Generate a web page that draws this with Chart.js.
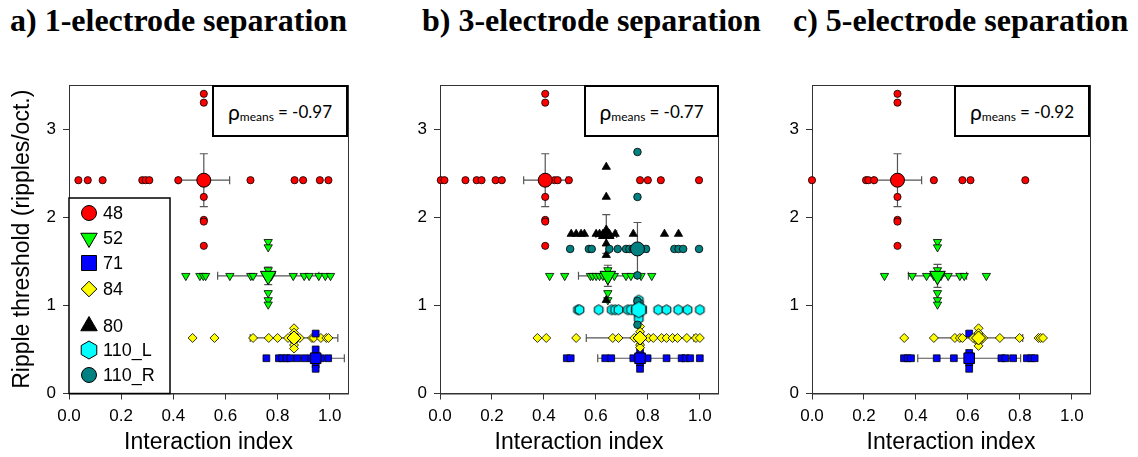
<!DOCTYPE html>
<html>
<head>
<meta charset="utf-8">
<script src="https://cdn.jsdelivr.net/npm/chart.js@4.4.0/dist/chart.umd.min.js"></script>
<style>
  body { margin: 0; width: 1138px; height: 457px; background: #fff; position: relative; overflow: hidden; }
  canvas { position: absolute; top: 0; }
  .ttl { position: absolute; top: 4px; font: bold 32px "Liberation Serif", "Times New Roman", serif; line-height: 32px; white-space: nowrap; color: #000; }
  .rho { position: absolute; top: 85px; height: 52px; box-sizing: border-box; border: 2px solid #000; background: #fff;
         display: flex; align-items: center; justify-content: center; font: 17px Lato, "Liberation Sans", sans-serif; color: #000; }
  .rho .g { font-size: 21px; }
  .rho .sub { font-size: 12px; position: relative; top: 5px; margin-right: 4px; }
</style>
</head>
<body>
<div class="ttl" style="left:10px">a) 1-electrode separation</div>
<div class="ttl" style="left:422px">b) 3-electrode separation</div>
<div class="ttl" style="left:793px">c) 5-electrode separation</div>

<canvas id="ca" width="370" height="457" style="left:0px"></canvas>
<canvas id="cb" width="360" height="457" style="left:380px"></canvas>
<canvas id="cc" width="388" height="457" style="left:750px"></canvas>

<div class="rho" style="left:212px;width:136px"><span class="g">ρ</span><span class="sub">means</span>= -0.97</div>
<div class="rho" style="left:584px;width:135px"><span class="g">ρ</span><span class="sub">means</span>= -0.77</div>
<div class="rho" style="left:954px;width:136px"><span class="g">ρ</span><span class="sub">means</span>= -0.92</div>

<script>
// animals and their ripple thresholds (ripples/oct.)
const animals = ['48', '52', '71', '84', '80', '110_L', '110_R'];
const thresholds = [2.42, 1.335, 0.40, 0.63, 1.81, 0.95, 1.64];

// ---- a) 1-electrode separation ----
// "Row" = interaction index of sites sitting on the animal's threshold,
// "Col" = extra thresholds of sites stacked at the animal's mean index
const a48Row = [0.036, 0.072, 0.129, 0.281, 0.294, 0.308, 0.419, 0.696, 0.865, 0.898, 0.962, 0.995];
const a48Col = [3.40, 3.30, 2.23, 1.97, 1.95, 1.675];
const a52Row = [0.448, 0.502, 0.515, 0.524, 0.617, 0.697, 0.706, 0.755, 0.776, 0.860, 0.902, 0.921, 0.958, 0.983, 1.003];
const a52Col = [1.72, 1.66, 1.40, 1.14, 1.06, 1.01];
const a71Row = [0.757, 0.805, 0.817, 0.834, 0.849, 0.876, 0.904, 0.930, 0.966, 0.994];
const a71Col = [0.68, 0.50, 0.33, 0.28];
const a84Row = [0.474, 0.558, 0.706, 0.766, 0.800, 0.840, 0.856, 0.885, 0.932, 0.939, 0.966, 0.987, 0.995];
const a84Col = [0.74, 0.69, 0.55, 0.51];
const aIds = ['48', '52', '71', '84'];
const aMeanX = [0.517, 0.764, 0.946, 0.863];
const aErrX = [0.099, 0.194, 0.110, 0.168];
const aErrY = [0.30, 0.10, 0.06, 0.05];

// ---- b) 3-electrode separation ----
const b48Row = [0.003, 0.017, 0.098, 0.141, 0.160, 0.214, 0.238, 0.441, 0.453, 0.496, 0.770, 0.800, 0.850, 0.997];
const b48Col = [3.40, 3.30, 2.23, 1.97, 1.95, 1.675];
const b80Row = [0.505, 0.524, 0.543, 0.556, 0.601, 0.614, 0.627, 0.652, 0.674, 0.744, 0.864, 0.918];
const b80Col = [2.57, 2.23, 1.70, 1.57, 1.06];
const b110RRow = [0.501, 0.573, 0.584, 0.652, 0.684, 0.716, 0.729, 0.742, 0.793, 0.902, 0.918, 0.936, 0.997];
const b110RCol = [2.74, 2.23, 1.34, 1.05, 0.78];
const b52Row = [0.422, 0.480, 0.579, 0.588, 0.601, 0.614, 0.627, 0.652, 0.671, 0.716, 0.735, 0.774, 0.815];
const b52Col = [1.40, 1.29, 1.14, 1.06];
const b110LRow = [0.531, 0.537, 0.611, 0.661, 0.674, 0.687, 0.723, 0.735, 0.754, 0.774, 0.840, 0.872, 0.917, 0.953, 1.000];
const b110LCol = [1.06, 1.02, 0.99, 0.91, 0.85];
const b84Row = [0.375, 0.409, 0.524, 0.665, 0.687, 0.748, 0.780, 0.803, 0.821, 0.853, 0.872, 0.895, 0.914, 0.950, 0.985, 1.000];
const b84Col = [0.76, 0.70, 0.55, 0.52];
const b71Row = [0.488, 0.503, 0.636, 0.659, 0.744, 0.761, 0.780, 0.799, 0.872, 0.930, 0.946, 0.963, 1.000];
const b71Col = [0.48, 0.35, 0.28];
const bIds = ['48', '110_R', '80', '52', '110_L', '84', '71'];
const bMeanX = [0.405, 0.760, 0.640, 0.646, 0.765, 0.770, 0.770];
const bErrX = [0.083, 0.040, 0.040, 0.113, 0.030, 0.207, 0.163];
const bErrY = [0.30, 0.30, 0.22, 0.12, 0.05, 0.06, 0.06];

// ---- c) 5-electrode separation ----
const c48Row = [0.000, 0.208, 0.217, 0.239, 0.469, 0.579, 0.610, 0.821];
const c48Col = [3.40, 3.30, 2.23, 1.97, 1.95, 1.675];
const c52Row = [0.279, 0.386, 0.441, 0.469, 0.496, 0.524, 0.569, 0.586, 0.671];
const c52Col = [1.72, 1.66, 1.40, 1.14, 1.06, 1.01];
const c84Row = [0.355, 0.469, 0.550, 0.569, 0.579, 0.620, 0.659, 0.723, 0.799, 0.872, 0.880, 0.889];
const c84Col = [0.74, 0.685, 0.58, 0.54];
const c71Row = [0.354, 0.368, 0.381, 0.480, 0.546, 0.729, 0.744, 0.774, 0.827, 0.844, 0.857];
const c71Col = [0.68, 0.46, 0.35, 0.28];
const cIds = ['48', '52', '84', '71'];
const cMeanX = [0.329, 0.483, 0.641, 0.605];
const cErrX = [0.093, 0.112, 0.170, 0.198];
const cErrY = [0.30, 0.13, 0.06, 0.06];

// marker looks
function hexImage(r, fill) {
  const s = Math.ceil(2 * r + 3);
  const c = document.createElement('canvas');
  c.width = s; c.height = s;
  const g = c.getContext('2d');
  hexPath(g, s / 2, s / 2, r);
  g.fillStyle = fill; g.fill();
  g.lineWidth = 1; g.strokeStyle = '#000'; g.stroke();
  return c;
}
function hexPath(g, x, y, r) {
  g.beginPath();
  for (let i = 0; i < 6; i++) {
    const a = -Math.PI / 2 + i * Math.PI / 3;
    const px = x + r * Math.cos(a), py = y + r * Math.sin(a);
    if (i === 0) g.moveTo(px, py); else g.lineTo(px, py);
  }
  g.closePath();
}

const markerStyle = {
  '48':    { fill: '#ff0000', shape: 'circle',   rot: 0,   r: 3.6, R: 7 },
  '52':    { fill: '#00ff00', shape: 'triangle', rot: 180, r: 4.8, R: 9 },
  '71':    { fill: '#0000ff', shape: 'rect',     rot: 0,   r: 4.8, R: 7.5 },
  '84':    { fill: '#ffff00', shape: 'rectRot',  rot: 0,   r: 4.5, R: 7 },
  '80':    { fill: '#000000', shape: 'triangle', rot: 0,   r: 4.8, R: 9 },
  '110_L': { fill: '#00ffff', shape: 'hex',      rot: 0,   r: 5,   R: 8 },
  '110_R': { fill: '#008080', shape: 'circle',   rot: 0,   r: 3.8, R: 7 }
};

function drawMarker(ctx, id, x, y, r) {
  const st = markerStyle[id];
  ctx.save();
  ctx.fillStyle = st.fill; ctx.strokeStyle = '#000'; ctx.lineWidth = 1;
  ctx.beginPath();
  if (st.shape === 'circle') {
    ctx.arc(x, y, r, 0, 2 * Math.PI);
  } else if (st.shape === 'rect') {
    ctx.rect(x - r, y - r, 2 * r, 2 * r);
  } else if (st.shape === 'rectRot') {
    ctx.moveTo(x, y - r); ctx.lineTo(x + r, y); ctx.lineTo(x, y + r); ctx.lineTo(x - r, y);
  } else if (st.shape === 'triangle') {
    const d = st.rot ? 1 : -1;
    ctx.moveTo(x, y + d * r);
    ctx.lineTo(x - r * 0.866, y - d * r * 0.5);
    ctx.lineTo(x + r * 0.866, y - d * r * 0.5);
  } else {
    hexPath(ctx, x, y, r);
  }
  ctx.closePath();
  ctx.fill(); ctx.stroke();
  ctx.restore();
}

function buildPanel(canvasId, ids, rows, cols, meanX, errX, errY, cfg) {
  const meanSets = [], pointSets = [], bars = [];
  ids.forEach((id, i) => {
    const thr = thresholds[animals.indexOf(id)];
    const st = markerStyle[id];
    const pts = rows[i].map(v => ({ x: v, y: thr })).concat(cols[i].map(v => ({ x: meanX[i], y: v })));
    const base = { showLine: false, clip: false, pointBorderColor: '#000', pointBorderWidth: 0.8,
                   pointBackgroundColor: st.fill, pointRotation: st.rot };
    pointSets.push(Object.assign({}, base, {
      label: id, data: pts,
      pointStyle: st.shape === 'hex' ? hexImage(st.r, st.fill) : st.shape,
      pointRadius: st.r
    }));
    meanSets.push(Object.assign({}, base, {
      label: id + ' mean', data: [{ x: meanX[i], y: thr }], pointBorderWidth: 1,
      pointStyle: st.shape === 'hex' ? hexImage(st.R, st.fill) : st.shape,
      pointRadius: st.R
    }));
    bars.push({ x: meanX[i], y: thr, xe: errX[i], ye: errY[i] });
  });

  const frame = {
    id: 'frame',
    beforeDatasetsDraw(chart) {
      const { ctx, chartArea: a, scales: { x, y } } = chart;
      ctx.save();
      ctx.strokeStyle = '#333'; ctx.lineWidth = 1;
      ctx.strokeRect(a.left + 0.5, a.top + 0.5, a.width, a.height);
      // error bars of the means
      ctx.strokeStyle = '#555'; ctx.lineWidth = 1.2;
      bars.forEach(m => {
        const cx = x.getPixelForValue(m.x), cy = y.getPixelForValue(m.y);
        const x0 = x.getPixelForValue(m.x - m.xe), x1 = x.getPixelForValue(m.x + m.xe);
        const y0 = y.getPixelForValue(m.y - m.ye), y1 = y.getPixelForValue(m.y + m.ye);
        ctx.beginPath();
        ctx.moveTo(x0, cy); ctx.lineTo(x1, cy);
        ctx.moveTo(x0, cy - 4); ctx.lineTo(x0, cy + 4);
        ctx.moveTo(x1, cy - 4); ctx.lineTo(x1, cy + 4);
        ctx.moveTo(cx, y0); ctx.lineTo(cx, y1);
        ctx.moveTo(cx - 4, y0); ctx.lineTo(cx + 4, y0);
        ctx.moveTo(cx - 4, y1); ctx.lineTo(cx + 4, y1);
        ctx.stroke();
      });
      ctx.restore();
    },
    afterDraw(chart) {
      if (!cfg.legend) return;
      const { ctx, chartArea: a } = chart;
      const top = a.bottom - 195.5, left = a.left;
      ctx.save();
      ctx.fillStyle = '#fff';
      ctx.fillRect(left, top, 101, a.bottom - top);
      ctx.strokeStyle = '#000'; ctx.lineWidth = 1.5;
      ctx.strokeRect(left, top, 101, a.bottom - top);
      const rowY = [15, 40, 65, 91, 128, 152, 177];
      const rr = { '48': 7.5, '52': 9.5, '71': 7.5, '84': 7.8, '80': 9.5, '110_L': 9, '110_R': 7.5 };
      ctx.font = '18px "Liberation Sans", Arial, sans-serif';
      ctx.textBaseline = 'middle';
      animals.forEach((id, i) => {
        const yy = top + rowY[i];
        drawMarker(ctx, id, left + 20, yy, rr[id]);
        ctx.fillStyle = '#000';
        ctx.fillText(id, left + 34, yy + 1);
      });
      ctx.restore();
    }
  };

  const tickFont = { family: '"Liberation Sans", Arial, sans-serif', size: 17 };
  const titleFont = { family: '"Liberation Sans", Arial, sans-serif', size: 23 };

  new Chart(document.getElementById(canvasId), {
    type: 'scatter',
    data: { datasets: meanSets.concat(pointSets) },
    options: {
      responsive: false,
      animation: false,
      devicePixelRatio: 1,
      layout: { padding: { top: 85, right: cfg.padRight, left: 0, bottom: 0 } },
      plugins: { legend: { display: false }, tooltip: { enabled: false } },
      scales: {
        x: {
          type: 'linear', min: 0, max: 1.07,
          ticks: { stepSize: 0.2, includeBounds: false, color: '#000', font: tickFont, padding: 7,
                   maxRotation: 0, autoSkip: false, callback: v => v.toFixed(1) },
          grid: { drawOnChartArea: false, drawTicks: true, tickLength: 6, color: '#333' },
          border: { display: true, color: '#333' },
          title: { display: true, text: 'Interaction index', color: '#000', font: titleFont, padding: { top: 0, bottom: 1 } },
          afterFit: s => { s.height = 63.5; }
        },
        y: {
          type: 'linear', min: 0, max: 3.5,
          ticks: { stepSize: 1, includeBounds: false, color: '#000', font: tickFont, padding: 7,
                   callback: v => String(v) },
          grid: { drawOnChartArea: false, drawTicks: true, tickLength: 6, color: '#333' },
          border: { display: true, color: '#333' },
          title: { display: !!cfg.yTitle, text: 'Ripple threshold (ripples/oct.)', color: '#000', font: titleFont,
                   padding: { top: 9, bottom: 0 } },
          afterFit: s => { s.width = cfg.yWidth; }
        }
      }
    },
    plugins: [frame]
  });
}

buildPanel('ca', aIds, [a48Row, a52Row, a71Row, a84Row], [a48Col, a52Col, a71Col, a84Col],
  aMeanX, aErrX, aErrY, { yTitle: true, legend: true, yWidth: 69, padRight: 22 });
buildPanel('cb', bIds, [b48Row, b110RRow, b80Row, b52Row, b110LRow, b84Row, b71Row],
  [b48Col, b110RCol, b80Col, b52Col, b110LCol, b84Col, b71Col],
  bMeanX, bErrX, bErrY, { yWidth: 60, padRight: 22 });
buildPanel('cc', cIds, [c48Row, c52Row, c84Row, c71Row], [c48Col, c52Col, c84Col, c71Col],
  cMeanX, cErrX, cErrY, { yWidth: 62, padRight: 48 });
</script>
</body>
</html>
